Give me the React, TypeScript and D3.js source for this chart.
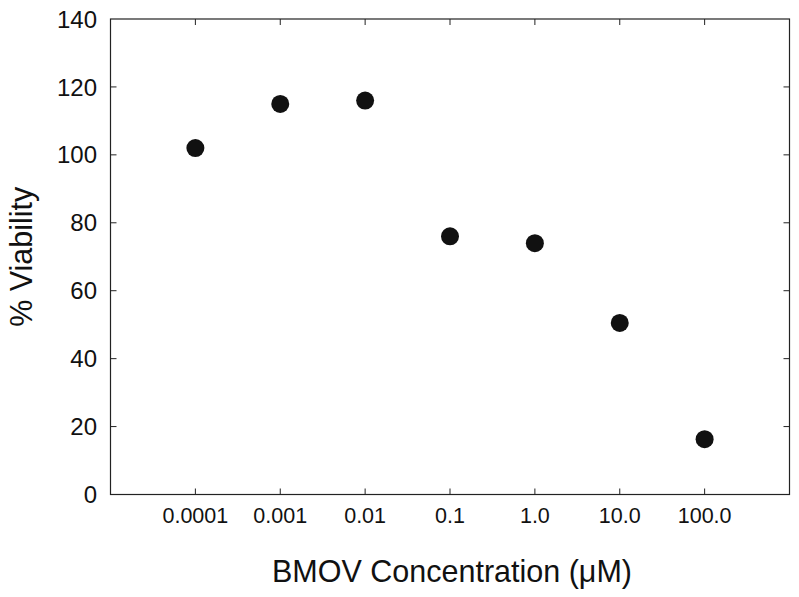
import React from "react";
import * as d3 from "d3";

const concentrations = [0.0001, 0.001, 0.01, 0.1, 1, 10, 100];
const xTickLabels = ["0.0001", "0.001", "0.01", "0.1", "1.0", "10.0", "100.0"];
const viability = [102, 115, 116, 76, 74, 50.5, 16.3];
const yTicks = [0, 20, 40, 60, 80, 100, 120, 140];

const W = 799;
const H = 597;
const left = 110.5;
const right = 789.5;
const top = 19;
const bottom = 494.5;

export default function App() {
  const x = d3.scaleLog().domain([1e-5, 1e3]).range([left, right]);
  const y = d3.scaleLinear().domain([0, 140]).range([bottom, top]);
  const font = "Liberation Sans, Arial, sans-serif";
  const tl = 6;
  return (
    <svg
      width={W}
      height={H}
      style={{ position: "absolute", left: 0, top: 0, background: "#fff" }}
    >
      <rect x={0} y={0} width={W} height={H} fill="#fff" />
      <rect
        x={left}
        y={top}
        width={right - left}
        height={bottom - top}
        fill="none"
        stroke="#222"
        strokeWidth={1.2}
      />
      {concentrations.map((c, i) => (
        <g key={"xt" + i}>
          <line x1={x(c)} x2={x(c)} y1={bottom} y2={bottom - tl} stroke="#222" />
          <line x1={x(c)} x2={x(c)} y1={top} y2={top + tl} stroke="#222" />
          <text
            x={x(c)}
            y={bottom + 28}
            textAnchor="middle"
            fontFamily={font}
            fontSize={21.5}
            fill="#111"
          >
            {xTickLabels[i]}
          </text>
        </g>
      ))}
      {yTicks.map((v, i) => (
        <g key={"yt" + i}>
          {v > 0 && v < 140 && (
            <>
              <line x1={left} x2={left + tl} y1={y(v)} y2={y(v)} stroke="#222" />
              <line x1={right} x2={right - tl} y1={y(v)} y2={y(v)} stroke="#222" />
            </>
          )}
          <text
            x={left - 13.5}
            y={y(v)}
            dy="0.36em"
            textAnchor="end"
            fontFamily={font}
            fontSize={24}
            fill="#111"
          >
            {v}
          </text>
        </g>
      ))}
      {concentrations.map((c, i) => (
        <circle key={"p" + i} cx={x(c)} cy={y(viability[i])} r={9} fill="#111" />
      ))}
      <text
        x={(left + right) / 2 + 2}
        y={582}
        textAnchor="middle"
        fontFamily={font}
        fontSize={30.5}
        fill="#111"
      >
        BMOV Concentration (μM)
      </text>
      <text
        transform={`translate(32, ${(top + bottom) / 2}) rotate(-90)`}
        textAnchor="middle"
        fontFamily={font}
        fontSize={30.5}
        fill="#111"
      >
        % Viability
      </text>
    </svg>
  );
}
